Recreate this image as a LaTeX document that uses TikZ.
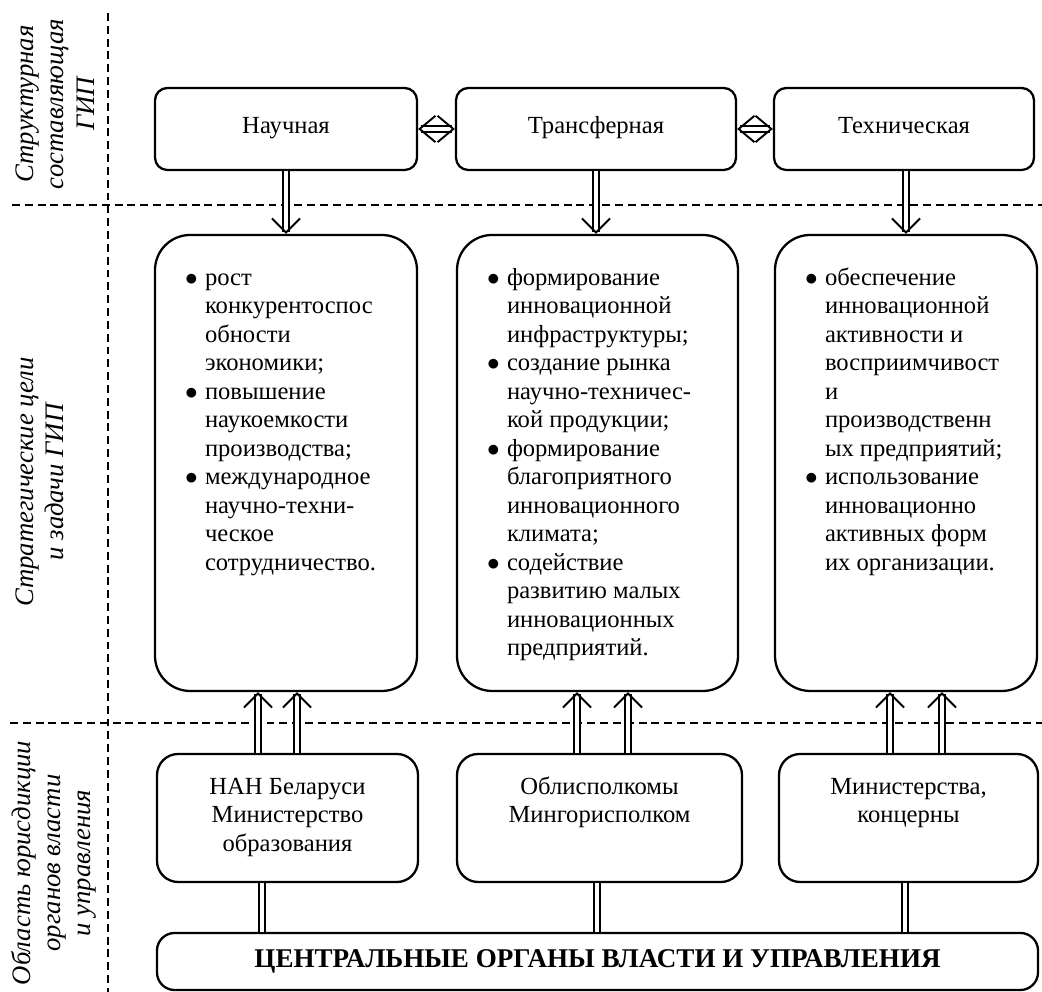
\documentclass[tikz,border=0pt]{standalone}
\usepackage{fontspec}
\setmainfont{Liberation Serif}
\usetikzlibrary{arrows.meta,positioning,calc}

\newcommand{\goalitem}[1]{\par\hangindent=0.4cm\hangafter=1\noindent\strut\makebox[0.4cm][l]{$\bullet$}#1}
\newcommand{\goallist}[2]{\parbox[c][7.9cm][t]{#1}{\parindent=0pt\hyphenpenalty=10000\exhyphenpenalty=10000#2}}
\newcommand{\bodytext}[1]{\parbox[c][1.74cm][t]{4.4cm}{\centering\strut#1}}

\begin{document}
\begin{tikzpicture}[
  every node/.style={font=\fontsize{14}{16.2}\selectfont},
  part/.style={draw,line width=1.3pt,rounded corners=7pt,minimum height=1.64cm,align=center,fill=white,text height=0.7em,text depth=0.2em},
  aim/.style={draw,line width=1.3pt,rounded corners=20pt,minimum height=9.12cm,inner xsep=0.6cm,inner ysep=0.61cm,fill=white},
  body/.style={draw,line width=1.3pt,rounded corners=12pt,minimum height=2.56cm,inner xsep=0.3cm,inner ysep=0.41cm,fill=white},
  side/.style={rotate=90,align=center,font=\fontsize{15.2}{17.2}\selectfont\itshape},
  sep/.style={dash pattern=on 4.5pt off 2.8pt,line width=0.9pt},
  dbl/.style={double,double distance=2.4pt,line width=0.9pt},
  darr/.style={dbl,-{Straight Barb[length=8pt,width=16pt,line width=1.1pt]}},
  uarr/.style={dbl,-{Straight Barb[length=8pt,width=16pt,line width=1.1pt]}},
  harr/.style={dbl,{Straight Barb[length=9pt,width=15pt,line width=1.1pt]}-{Straight Barb[length=9pt,width=15pt,line width=1.1pt]}}
]
\useasboundingbox (0,0) rectangle (20.84,19.84);

% zones
\draw[sep] (2.16,19.58) -- (2.16,0);
\draw[sep] (0.24,15.74) -- (20.84,15.74);
\draw[sep] (0.2,5.38) -- (20.84,5.38);

\node[side] (zone1) at (1.1,17.76) {Структурная\\составляющая\\ГИП};
\node[side] (zone2) at (0.8,10.2) {Стратегические цели\\и задачи ГИП};
\node[side] (zone3) at (1.08,2.58) {Область юрисдикции\\органов власти\\и управления};

% structural parts
\node[part,minimum width=5.24cm] (sci) at (5.72,17.26) {Научная};
\node[part,minimum width=5.6cm] (tr) at (11.92,17.26) {Трансферная};
\node[part,minimum width=5.2cm] (tech) at (18.08,17.26) {Техническая};

% goals
\node[aim,minimum width=5.24cm] (a1) at (5.72,10.58) {\goallist{4.04cm}{%
  \goalitem{рост\\конкурентоспос\\обности\\экономики;}
  \goalitem{повышение\\наукоемкости\\производства;}
  \goalitem{международное\\научно-техни-\\ческое\\сотрудничество.}}};
\node[aim,minimum width=5.62cm] (a2) at (11.95,10.58) {\goallist{4.42cm}{%
  \goalitem{формирование\\инновационной\\инфраструктуры;}
  \goalitem{создание рынка\\научно-техничес-\\кой продукции;}
  \goalitem{формирование\\благоприятного\\инновационного\\климата;}
  \goalitem{содействие\\развитию малых\\инновационных\\предприятий.}}};
\node[aim,minimum width=5.24cm] (a3) at (18.12,10.58) {\goallist{4.04cm}{%
  \goalitem{обеспечение\\инновационной\\активности и\\восприимчивост\\и\\производственн\\ых предприятий;}
  \goalitem{использование\\инновационно\\активных форм\\их организации.}}};

% authorities
\node[body,minimum width=5.22cm] (nan) at (5.75,3.48) {\bodytext{НАН Беларуси\\Министерство\\образования}};
\node[body,minimum width=5.7cm] (obl) at (11.99,3.48) {\bodytext{Облисполкомы\\Мингорисполком}};
\node[body,minimum width=5.18cm] (mins) at (18.17,3.48) {\bodytext{Министерства,\\концерны}};
\node[draw,line width=1.3pt,rounded corners=10pt,minimum width=17.62cm,minimum height=1.14cm,fill=white,
  font=\bfseries\fontsize{15.4}{18}\selectfont] (gov) at (11.95,0.61) {ЦЕНТРАЛЬНЫЕ ОРГАНЫ ВЛАСТИ И УПРАВЛЕНИЯ};

% connectors
\draw[harr] (sci) -- (tr);
\draw[harr] (tr) -- (tech);
\draw[darr] (sci.south) -- (sci.south |- a1.north);
\draw[darr] (tr.south) -- (tr.south |- a2.north);
\draw[darr] ([xshift=0.04cm]tech.south) -- ([xshift=0.04cm]tech.south |- a3.north);
\foreach \src/\dst/\dx in {nan/a1/-0.59, nan/a1/0.19, obl/a2/-0.45, obl/a2/0.57, mins/a3/-0.37, mins/a3/0.67}
  \draw[uarr] ([xshift=\dx cm]\src.north) -- ([xshift=\dx cm]\src.north |- \dst.south);
\foreach \src/\dx in {nan/-0.51, obl/-0.05, mins/-0.07}
  \draw[dbl] ([xshift=\dx cm]\src.south) -- ([xshift=\dx cm]\src.south |- gov.north);
\end{tikzpicture}
\end{document}
